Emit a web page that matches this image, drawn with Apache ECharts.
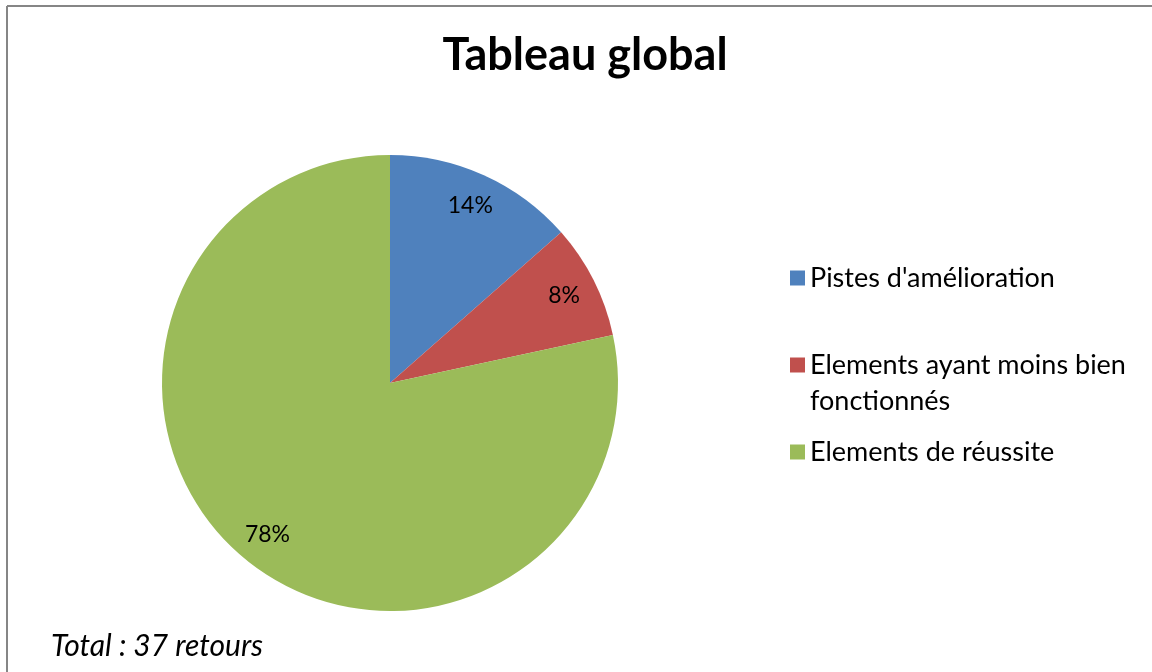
<!DOCTYPE html>
<html>
<head>
<meta charset="utf-8">
<script src="https://cdn.jsdelivr.net/npm/echarts@6/dist/echarts.min.js"></script>
<style>
  html, body { margin: 0; padding: 0; background: #fff; }
  #chart { width: 1152px; height: 672px; }
</style>
</head>
<body>
<div id="chart"></div>
<script>
// data: number of returns per category (37 in total)
var categories = ["Pistes d'amélioration", 'Elements ayant moins bien fonctionnés', 'Elements de réussite'];
var counts = [5, 3, 29];
var colors = ['#4F81BD', '#C0504D', '#9BBB59'];
var total = 37;

var FONT = 'Lato';

var myChart = echarts.init(document.getElementById('chart'));

var pieData = categories.map(function (name, i) {
    return { name: name, value: counts[i], itemStyle: { color: colors[i] } };
});

var legendBase = {
    orient: 'vertical',
    left: 785,
    itemWidth: 15,
    itemHeight: 15,
    icon: 'rect',
    itemGap: 10,
    selectedMode: false,
    textStyle: { fontFamily: FONT, fontSize: 27, color: '#000', lineHeight: 36 }
};

var option = {
    animation: false,
    color: colors,
    title: [
        {
            text: 'Tableau global',
            left: 580,
            top: 28,
            textAlign: 'center',
            textStyle: { fontFamily: FONT, fontSize: 45, fontWeight: 'bold', color: '#000' }
        },
        {
            text: 'Total : ' + total + ' retours',
            left: 46,
            top: 626,
            textStyle: { fontFamily: FONT, fontSize: 30, fontStyle: 'italic', fontWeight: 'normal', color: '#000' }
        }
    ],
    legend: [
        Object.assign({}, legendBase, { top: 255, data: [categories[0]] }),
        Object.assign({}, legendBase, {
            top: 306,
            // blank first line so the marker sits beside the first text line
            formatter: function () { return ' \nElements ayant moins bien\nfonctionnés'; },
            data: [categories[1]]
        }),
        Object.assign({}, legendBase, { top: 429, data: [categories[2]] })
    ],
    graphic: [
        { type: 'line', shape: { x1: 7, y1: 6, x2: 1152, y2: 6 }, style: { stroke: '#868686', lineWidth: 2 } },
        { type: 'line', shape: { x1: 7, y1: 6, x2: 7, y2: 672 }, style: { stroke: '#868686', lineWidth: 2 } }
    ],
    series: [
        {
            name: 'Tableau global',
            type: 'pie',
            center: [390, 383],
            radius: 228,
            startAngle: 90,
            clockwise: true,
            label: { show: false },
            labelLine: { show: false },
            data: pieData
        },
        {
            // transparent ring only used to place the percentages near the rim
            name: 'labels',
            type: 'pie',
            center: [390, 383],
            radius: [156, 228],
            startAngle: 90,
            clockwise: true,
            silent: true,
            itemStyle: { color: 'rgba(0,0,0,0)' },
            label: {
                show: true,
                position: 'inside',
                fontFamily: FONT,
                fontSize: 23,
                color: '#000',
                formatter: function (p) { return Math.round(p.value / total * 100) + '%'; }
            },
            labelLine: { show: false },
            data: categories.map(function (name, i) {
                return { name: name, value: counts[i] };
            })
        }
    ]
};

myChart.setOption(option);
</script>
</body>
</html>
